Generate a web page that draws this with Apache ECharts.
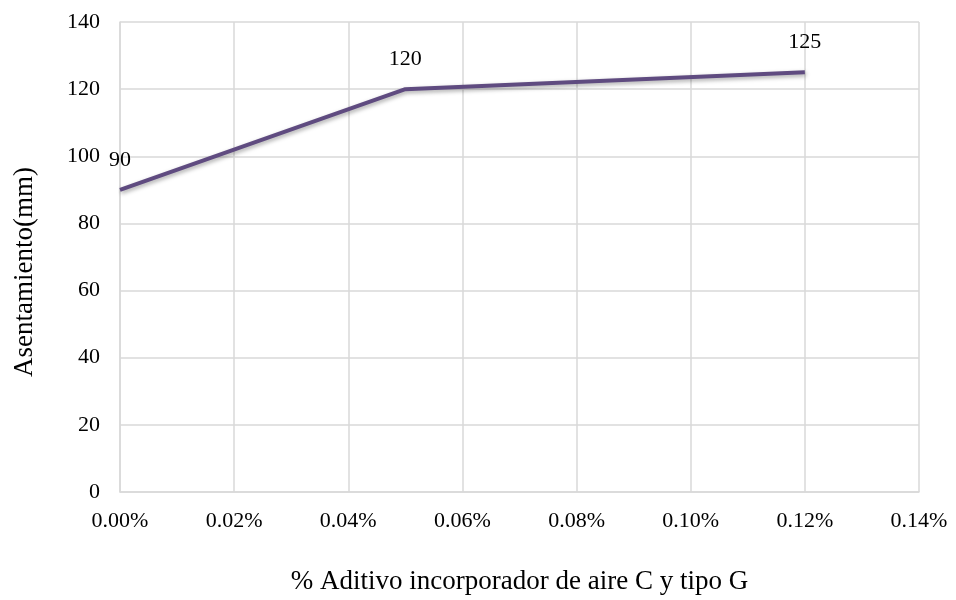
<!DOCTYPE html>
<html>
<head>
<meta charset="utf-8">
<script src="https://cdn.jsdelivr.net/npm/echarts@6/dist/echarts.min.js"></script>
<style>
html,body{margin:0;padding:0;background:#fff;}
#chart{width:956px;height:600px;}
</style>
</head>
<body>
<div id="chart"></div>
<script>
const xValues = [0.00, 0.05, 0.12];
const yValues = [90, 120, 125];
const xTitle = '% Aditivo incorporador de aire C y tipo G';
const yTitle = 'Asentamiento(mm)';

const font = "'Liberation Serif', 'Times New Roman', serif";
const chart = echarts.init(document.getElementById('chart'));
const data = xValues.map((x, i) => ({ value: [x, yValues[i]] }));
chart.setOption({
  animation: false,
  grid: { left: 120, right: 37, top: 22, bottom: 108 },
  xAxis: {
    type: 'value', min: 0, max: 0.14, interval: 0.02,
    name: xTitle, nameLocation: 'middle', nameGap: 76,
    nameTextStyle: { fontFamily: font, fontSize: 27, color: '#000' },
    axisLine: { show: true, lineStyle: { color: '#d9d9d9', width: 1.5 } },
    axisTick: { show: false },
    axisLabel: { fontFamily: font, fontSize: 22, color: '#000', margin: 18,
      formatter: v => v.toFixed(2) + '%' },
    splitLine: { show: true, lineStyle: { color: '#d9d9d9', width: 1.5 } }
  },
  yAxis: {
    type: 'value', min: 0, max: 140, interval: 20,
    name: yTitle, nameLocation: 'middle', nameGap: 82,
    nameTextStyle: { fontFamily: font, fontSize: 27, color: '#000', padding: [0, 30, 0, 0] },
    axisLine: { show: true, lineStyle: { color: '#d9d9d9', width: 1.5 } },
    axisTick: { show: false },
    axisLabel: { fontFamily: font, fontSize: 22, color: '#000', margin: 20 },
    splitLine: { show: true, lineStyle: { color: '#d9d9d9', width: 1.5 } }
  },
  series: [{
    type: 'line',
    data: data,
    symbol: 'circle',
    symbolSize: 2,
    showSymbol: true,
    itemStyle: { color: 'rgba(0,0,0,0)', borderWidth: 0 },
    lineStyle: { color: '#5f4b80', width: 4, shadowColor: 'rgba(0,0,0,0.35)', shadowBlur: 4, shadowOffsetY: 2, shadowOffsetX: 1 },
    label: { show: true, position: 'top', distance: 18, fontFamily: font, fontSize: 22, color: '#000',
      formatter: p => p.value[1] }
  }]
});
</script>
</body>
</html>
